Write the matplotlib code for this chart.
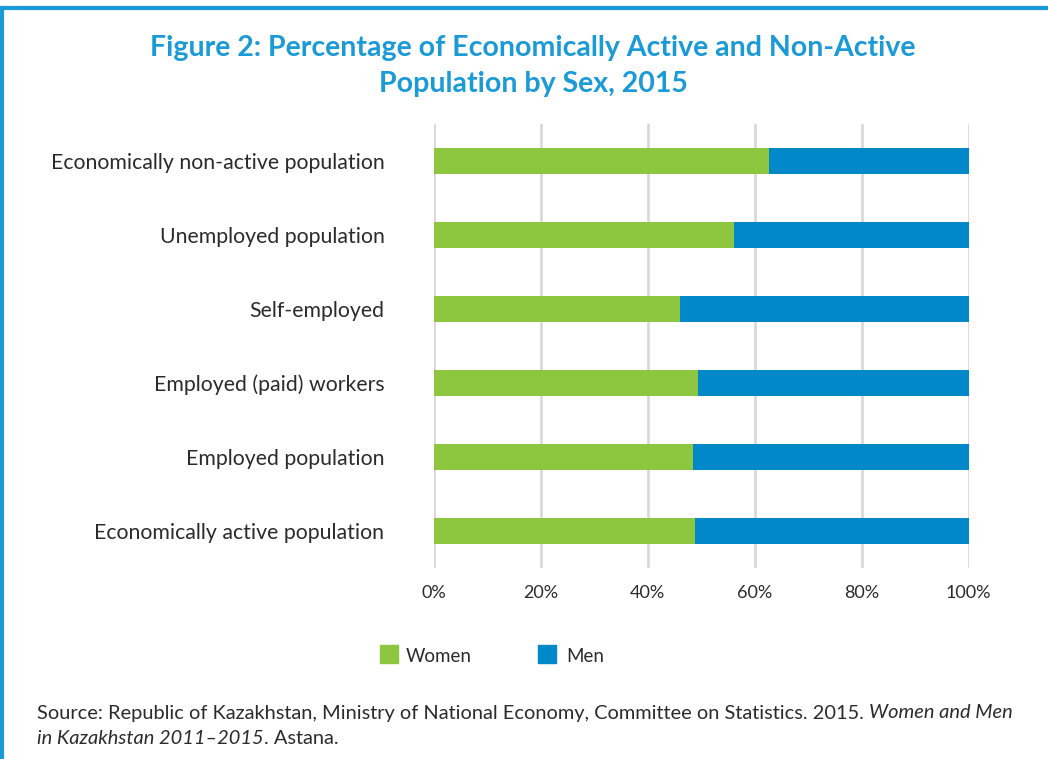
import matplotlib
matplotlib.use("Agg")
import matplotlib.pyplot as plt
from matplotlib.lines import Line2D
from matplotlib.patches import Rectangle
from matplotlib.offsetbox import TextArea, HPacker, AnchoredOffsetbox

categories = ["Economically non-active population", "Unemployed population", "Self-employed",
              "Employed (paid) workers", "Employed population", "Economically active population"]
women = [62.7, 56.1, 46.0, 49.4, 48.5, 48.8]
men = [100 - w for w in women]
xticks = [0, 20, 40, 60, 80, 100]
xticklabels = ["0%", "20%", "40%", "60%", "80%", "100%"]

GREEN = "#8dc63f"
BLUE = "#0088c8"
TITLE_BLUE = "#1a9ad6"
TEXT = "#2b2b2b"

plt.rcParams['font.family'] = ['Lato', 'DejaVu Sans']

fig = plt.figure(figsize=(10.48, 7.59), dpi=100)
ax = fig.add_axes([433.7/1048, 1-568/759, 535/1048, 444/759])

ypos = list(range(len(categories)))[::-1]
ax.barh(ypos, women, height=0.35, color=GREEN, zorder=3)
ax.barh(ypos, men, left=women, height=0.35, color=BLUE, zorder=3)

ax.set_xlim(0, 100)
ax.set_ylim(-0.5, 5.5)
ax.set_xticks(xticks)
ax.set_xticklabels(xticklabels, fontsize=13, color=TEXT)
ax.set_yticks(ypos)
ax.set_yticklabels(categories, fontsize=15.3, color=TEXT)
ax.tick_params(axis='both', length=0)
ax.tick_params(axis='x', pad=12)
ax.tick_params(axis='y', pad=35.5)
for s in ax.spines.values():
    s.set_visible(False)
ax.grid(axis='x', color="#d9d9d9", linewidth=2, zorder=0)

fig.text(533/1048, 1-48/759, "Figure 2: Percentage of Economically Active and Non-Active",
         ha='center', va='center', fontsize=20.5, fontweight='bold', color=TITLE_BLUE)
fig.text(533/1048, 1-84/759, "Population by Sex, 2015",
         ha='center', va='center', fontsize=20.5, fontweight='bold', color=TITLE_BLUE)

# legend
fig.patches.append(Rectangle((380/1048, 1-663/759), 18/1048, 18/759, transform=fig.transFigure,
                             color=GREEN, figure=fig))
fig.text(406/1048, 1-657/759, "Women", ha='left', va='center', fontsize=13.5, color=TEXT)
fig.patches.append(Rectangle((538/1048, 1-663/759), 18/1048, 18/759, transform=fig.transFigure,
                             color=BLUE, figure=fig))
fig.text(566/1048, 1-657/759, "Men", ha='left', va='center', fontsize=13.5, color=TEXT)

# source
def line(parts, y):
    boxes = [TextArea(t, textprops=dict(fontsize=14.4, color=TEXT, style=st)) for t, st in parts]
    pack = HPacker(children=boxes, align="baseline", pad=0, sep=0)
    ab = AnchoredOffsetbox(loc='center left', child=pack, pad=0, frameon=False,
                           bbox_to_anchor=(37/1048, 1-y/759), bbox_transform=fig.transFigure,
                           borderpad=0)
    fig.add_artist(ab)

line([("Source: Republic of Kazakhstan, Ministry of National Economy, Committee on Statistics. 2015. ", "normal"),
      ("Women and Men", "italic")], 713)
line([("in Kazakhstan 2011–2015", "italic"), (". Astana.", "normal")], 738)

# border
fig.add_artist(Line2D([2/1048, 2/1048], [0, 1-8/759], transform=fig.transFigure, color=TITLE_BLUE, linewidth=3))
fig.add_artist(Line2D([2/1048, 1], [1-8/759, 1-8/759], transform=fig.transFigure, color=TITLE_BLUE, linewidth=3))

fig.savefig("out.png", dpi=100)
